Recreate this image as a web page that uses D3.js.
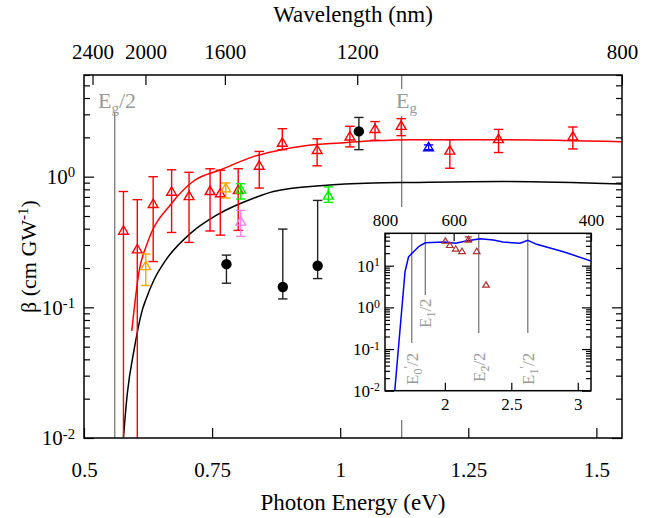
<!DOCTYPE html>
<html>
<head>
<meta charset="utf-8">
<script src="https://cdn.jsdelivr.net/npm/d3@7"></script>
<style>
  body { margin: 0; background: #fff; }
</style>
</head>
<body>
<div class="chart-container"></div>
<script>
const w = 666,
      h = 518;

// ---- data: photon energy (eV) and beta (cm/GW) ----
const redEnergy = [0.577, 0.604, 0.635, 0.671, 0.705, 0.746, 0.766, 0.801, 0.842, 0.887, 0.955, 1.019, 1.068, 1.119, 1.214, 1.309, 1.454];
const redBeta   = [0.388, 0.279, 0.621, 0.771, 0.714, 0.78, 0.75, 0.794, 1.22, 1.83, 1.61, 2.04, 2.33, 2.46, 1.59, 1.95, 2.04];
const redHigh   = [0.77, 0.667, 1.0, 1.13, 1.08, 1.15, 1.12, 1.15, 1.56, 2.33, 1.95, 2.43, 2.64, 2.78, 1.92, 2.30, 2.40];
const redLow    = [0.001, 0.001, 0.224, 0.374, 0.314, 0.384, 0.357, 0.388, 0.818, 1.61, 1.21, 1.69, 1.90, 2.06, 1.16, 1.53, 1.63];

const orangeEnergy = [0.6205, 0.7767];
const orangeBeta   = [0.208, 0.818];
const orangeHigh   = [0.256, 0.895];
const orangeLow    = [0.147, 0.687];

const greenEnergy = [0.806, 0.977];
const greenBeta   = [0.80, 0.72];
const greenHigh   = [0.883, 0.834];
const greenLow    = [0.674, 0.636];

const violetEnergy = [0.806];
const violetBeta   = [0.455];
const violetHigh   = [0.552];
const violetLow    = [0.349];

const blueEnergy = [1.1725];
const blueBeta   = [1.69];
const blueHigh   = [1.75];
const blueLow    = [1.61];

const blackEnergy = [0.778, 0.888, 0.956, 1.0365];
const blackBeta   = [0.214, 0.143, 0.208, 2.22];
const blackHigh   = [0.251, 0.397, 0.658, 2.84];
const blackLow    = [0.153, 0.116, 0.166, 1.61];

// fitted / theory curves
const redFitEnergy = [0.5932, 0.6074, 0.6236, 0.6705, 0.7148, 0.767, 0.832, 0.8697, 0.935, 1.0, 1.065, 1.137, 1.3125, 1.5527];
const redFitBeta   = [0.066, 0.188, 0.31, 0.621, 0.931, 1.13, 1.43, 1.56, 1.73, 1.81, 1.88, 1.92, 1.92, 1.85];
const blackFitEnergy = [0.576, 0.5846, 0.5977, 0.6139, 0.6205, 0.6367, 0.660, 0.7084, 0.7604, 0.832, 0.8697, 0.9674, 1.065, 1.137, 1.3125, 1.5527];
const blackFitBeta   = [0.009, 0.022, 0.0472, 0.0957, 0.114, 0.1625, 0.231, 0.370, 0.512, 0.687, 0.771, 0.857, 0.895, 0.904, 0.92, 0.879];

// inset
const insetCurveEnergy = [1.622, 1.7005, 1.7268, 1.8058, 1.8532, 1.994, 2.082, 2.150, 2.265, 2.364, 2.438, 2.566, 2.624, 2.691, 2.892, 3.1];
const insetCurveBeta   = [0.009, 7.18, 16.4, 29.2, 35.4, 37.0, 34.7, 38.5, 44.4, 41.4, 37.0, 34.5, 40.6, 32.6, 21.7, 13.0];
const insetPtEnergy = [2.004, 2.037, 2.082, 2.129, 2.177, 2.24, 2.31];
const insetPtBeta   = [39.8, 31.4, 25.6, 22.5, 43.0, 22.5, 3.5];
const insetPtHigh   = [null, null, null, null, 49.0, null, null];
const insetPtLow    = [null, null, null, null, 37.5, null, null];

// ticks and markers
const energyTicks = [0.5, 0.75, 1, 1.25, 1.5];
const wavelengthTicks = [2400, 2000, 1600, 1200, 800];
const betaTicks = [0.01, 0.1, 1];
const insetEnergyTicks = [2, 2.5, 3];
const insetWavelengthTicks = [800, 600, 400];
const insetBetaTicks = [0.01, 0.1, 1, 10];
const gapEnergies = [0.56, 1.12];
const insetGapEnergies = [1.751, 1.853, 2.255, 2.624];
const insetGapSub = ['0', '1', '2', '1'];
const insetGapPrime = [true, false, false, true];

const hc = 1239.84;

// ---- layout ----
const m = { left: 84, right: 622, top: 75, bottom: 438 };
const ins = { left: 385, right: 591, top: 233.3, bottom: 390.7 };
const font = 'Liberation Serif';

const svg = d3.select('.chart-container')
  .append('svg')
  .attr('width', w)
  .attr('height', h)
  .attr('font-family', font);

const x = d3.scaleLinear().domain([0.5, 1.55]).range([m.left, m.right]);
const y = d3.scaleLog().domain([0.01, 6]).range([m.bottom, m.top]);

svg.append('clipPath').attr('id', 'clip-main')
  .append('rect')
  .attr('x', m.left).attr('y', m.top)
  .attr('width', m.right - m.left).attr('height', m.bottom - m.top);

const styleAxis = (g, size) => {
  g.attr('font-family', font).attr('font-size', size);
  g.select('.domain').remove();
  g.selectAll('.tick line').attr('stroke', '#000').attr('stroke-width', 1.2);
  g.selectAll('.tick text').attr('fill', '#000');
};

const addPower = (sel) => {
  sel.selectAll('.tick text').each(function(d) {
    const t = d3.select(this);
    t.text('10');
    t.append('tspan')
      .attr('dy', '-0.45em')
      .attr('font-size', '0.7em')
      .text(Math.round(Math.log10(d)));
  });
};

// ---- gap lines ----
const gap = svg.append('g').attr('stroke', '#7a7a7a').attr('stroke-width', 1.3);
gap.append('line')
  .attr('x1', x(gapEnergies[0])).attr('x2', x(gapEnergies[0]))
  .attr('y1', 112).attr('y2', m.bottom);
gap.append('line')
  .attr('x1', x(gapEnergies[1])).attr('x2', x(gapEnergies[1]))
  .attr('y1', m.top).attr('y2', 89);
gap.append('line')
  .attr('x1', x(gapEnergies[1])).attr('x2', x(gapEnergies[1]))
  .attr('y1', 116).attr('y2', m.bottom);

const gapLabel = (xPos, half) => {
  const t = svg.append('text')
    .attr('x', xPos).attr('y', 108)
    .attr('fill', '#999')
    .attr('font-size', 22)
    .text('E');
  t.append('tspan').attr('dy', 5).attr('font-size', 15).text('g');
  if (half) t.append('tspan').attr('dy', -5).text('/2');
};
gapLabel(98, true);
gapLabel(396, false);

// ---- curves ----
const plot = svg.append('g').attr('clip-path', 'url(#clip-main)');

const line = d3.line()
  .x(d => x(d[0]))
  .y(d => y(d[1]))
  .curve(d3.curveMonotoneX);

plot.append('path')
  .datum(d3.zip(blackFitEnergy, blackFitBeta))
  .attr('d', line)
  .attr('fill', 'none')
  .attr('stroke', '#000')
  .attr('stroke-width', 1.5);

plot.append('path')
  .datum(d3.zip(redFitEnergy, redFitBeta))
  .attr('d', line)
  .attr('fill', 'none')
  .attr('stroke', '#ff0000')
  .attr('stroke-width', 1.5);

// ---- error bars and markers ----
const triangle = 'M0,-4.6L4.9,3.8L-4.9,3.8Z';

const drawSeries = (energy, beta, low, high, color, shape, barColor) => {
  const data = energy.map((e, i) => ({ e, b: beta[i], lo: low[i], hi: high[i] }));
  const g = plot.append('g');
  const bars = g.selectAll('.bar').data(data).enter().append('g')
    .attr('stroke', barColor || color)
    .attr('stroke-width', 1.4);
  bars.append('line')
    .attr('x1', d => x(d.e)).attr('x2', d => x(d.e))
    .attr('y1', d => y(d.hi)).attr('y2', d => y(d.lo));
  bars.append('line')
    .attr('x1', d => x(d.e) - 4.7).attr('x2', d => x(d.e) + 4.7)
    .attr('y1', d => y(d.hi)).attr('y2', d => y(d.hi));
  bars.append('line')
    .attr('x1', d => x(d.e) - 4.7).attr('x2', d => x(d.e) + 4.7)
    .attr('y1', d => y(d.lo)).attr('y2', d => y(d.lo));

  if (shape === 'circle') {
    g.selectAll('.dot').data(data).enter().append('circle')
      .attr('cx', d => x(d.e)).attr('cy', d => y(d.b))
      .attr('r', 5.2)
      .attr('fill', color);
  } else {
    g.selectAll('.tri').data(data).enter().append('path')
      .attr('d', triangle)
      .attr('transform', d => `translate(${x(d.e)},${y(d.b)})`)
      .attr('fill', 'none')
      .attr('stroke', color)
      .attr('stroke-width', 1.4);
  }
};

drawSeries(redEnergy, redBeta, redLow, redHigh, '#ff0000', 'tri');
drawSeries(orangeEnergy, orangeBeta, orangeLow, orangeHigh, '#ffa500', 'tri');
drawSeries(greenEnergy, greenBeta, greenLow, greenHigh, '#00ee00', 'tri');
drawSeries(violetEnergy, violetBeta, violetLow, violetHigh, '#ee82ee', 'tri');
drawSeries(blueEnergy, blueBeta, blueLow, blueHigh, '#0000ff', 'tri');
drawSeries(blackEnergy, blackBeta, blackLow, blackHigh, '#000', 'circle', '#222');

// ---- main axes ----
const minorBeta = y.ticks().filter(v => !betaTicks.includes(v));

svg.append('g')
  .attr('transform', `translate(0,${m.bottom})`)
  .call(d3.axisBottom(x).tickValues(energyTicks).tickFormat(d => String(d))
    .tickSizeInner(-10).tickSizeOuter(0).tickPadding(24))
  .call(g => styleAxis(g, 21));

svg.append('g')
  .attr('transform', `translate(0,${m.top})`)
  .call(d3.axisTop(x).tickValues(wavelengthTicks.map(l => hc / l))
    .tickFormat((d, i) => wavelengthTicks[i])
    .tickSizeInner(-10).tickSizeOuter(0).tickPadding(16))
  .call(g => styleAxis(g, 21));

svg.append('g')
  .attr('transform', `translate(${m.left},0)`)
  .call(d3.axisLeft(y).tickValues(betaTicks).tickSizeInner(-10).tickSizeOuter(0).tickPadding(9))
  .call(g => styleAxis(g, 21))
  .call(addPower);

svg.append('g')
  .attr('transform', `translate(${m.left},0)`)
  .call(d3.axisLeft(y).tickValues(minorBeta).tickFormat('').tickSizeInner(-6).tickSizeOuter(0))
  .call(g => styleAxis(g, 21));

svg.append('g')
  .attr('transform', `translate(${m.right},0)`)
  .call(d3.axisRight(y).tickValues(betaTicks).tickFormat('').tickSizeInner(-10).tickSizeOuter(0))
  .call(g => styleAxis(g, 21));

svg.append('g')
  .attr('transform', `translate(${m.right},0)`)
  .call(d3.axisRight(y).tickValues(minorBeta).tickFormat('').tickSizeInner(-6).tickSizeOuter(0))
  .call(g => styleAxis(g, 21));

svg.append('rect')
  .attr('x', m.left).attr('y', m.top)
  .attr('width', m.right - m.left).attr('height', m.bottom - m.top)
  .attr('fill', 'none')
  .attr('stroke', '#000')
  .attr('stroke-width', 1.5);

svg.append('text')
  .attr('x', (m.left + m.right) / 2).attr('y', 510)
  .attr('text-anchor', 'middle')
  .attr('font-size', 23)
  .text('Photon Energy (eV)');

svg.append('text')
  .attr('x', (m.left + m.right) / 2).attr('y', 22)
  .attr('text-anchor', 'middle')
  .attr('font-size', 23)
  .text('Wavelength (nm)');

const yLabel = svg.append('text')
  .attr('transform', `translate(36,${(m.top + m.bottom) / 2}) rotate(-90)`)
  .attr('text-anchor', 'middle')
  .attr('font-size', 22)
  .text('β (cm GW');
yLabel.append('tspan').attr('dy', -8).attr('font-size', 15).text('-1');
yLabel.append('tspan').attr('dy', 8).text(')');

// ---- inset ----
const xi = d3.scaleLinear().domain([hc / 800, hc / 400]).range([ins.left, ins.right]);
const yi = d3.scaleLog().domain([0.01, 60]).range([ins.bottom, ins.top]);

svg.append('rect')
  .attr('x', 340).attr('y', 207)
  .attr('width', 272).attr('height', 213)
  .attr('fill', '#fff');

svg.append('clipPath').attr('id', 'clip-inset')
  .append('rect')
  .attr('x', ins.left).attr('y', ins.top)
  .attr('width', ins.right - ins.left).attr('height', ins.bottom - ins.top);

const inset = svg.append('g');

// gap lines with rotated labels
const insetLineEnd = [343, 295, 333, 333];
const insetLabelBottom = [385, 328, 382, 385];
insetGapEnergies.forEach((e, i) => {
  inset.append('line')
    .attr('x1', xi(e)).attr('x2', xi(e))
    .attr('y1', ins.top).attr('y2', insetLineEnd[i])
    .attr('stroke', '#7a7a7a')
    .attr('stroke-width', 1.3);
  const t = inset.append('text')
    .attr('transform', `translate(${xi(e) + 6},${insetLabelBottom[i]}) rotate(-90)`)
    .attr('fill', '#999')
    .attr('font-size', 17)
    .text('E');
  t.append('tspan').attr('dy', 4).attr('font-size', 12).text(insetGapSub[i]);
  if (insetGapPrime[i]) {
    t.append('tspan').attr('dy', -10).attr('font-size', 12).text('′');
    t.append('tspan').attr('dy', 6).text('/2');
  } else {
    t.append('tspan').attr('dy', -4).text('/2');
  }
});

const insetPlot = inset.append('g').attr('clip-path', 'url(#clip-inset)');

insetPlot.append('path')
  .datum(d3.zip(insetCurveEnergy, insetCurveBeta))
  .attr('d', d3.line().x(d => xi(d[0])).y(d => yi(d[1])))
  .attr('fill', 'none')
  .attr('stroke', '#0000ff')
  .attr('stroke-width', 1.5);

const insetData = insetPtEnergy.map((e, i) => ({ e, b: insetPtBeta[i], lo: insetPtLow[i], hi: insetPtHigh[i] }));
const ebar = insetPlot.selectAll('.ebar').data(insetData.filter(d => d.hi !== null)).enter().append('g')
  .attr('stroke', '#b03030').attr('stroke-width', 1.2);
ebar.append('line')
  .attr('x1', d => xi(d.e)).attr('x2', d => xi(d.e))
  .attr('y1', d => yi(d.hi)).attr('y2', d => yi(d.lo));
ebar.append('line')
  .attr('x1', d => xi(d.e) - 3.5).attr('x2', d => xi(d.e) + 3.5)
  .attr('y1', d => yi(d.hi)).attr('y2', d => yi(d.hi));
ebar.append('line')
  .attr('x1', d => xi(d.e) - 3.5).attr('x2', d => xi(d.e) + 3.5)
  .attr('y1', d => yi(d.lo)).attr('y2', d => yi(d.lo));

insetPlot.selectAll('.itri').data(insetData).enter().append('path')
  .attr('d', 'M0,-2.9L3.3,2.5L-3.3,2.5Z')
  .attr('transform', d => `translate(${xi(d.e)},${yi(d.b)})`)
  .attr('fill', 'none')
  .attr('stroke', '#b03030')
  .attr('stroke-width', 1.2);

// inset axes
const insetMinor = yi.ticks().filter(v => !insetBetaTicks.includes(v));

inset.append('g')
  .attr('transform', `translate(0,${ins.bottom})`)
  .call(d3.axisBottom(xi).tickValues(insetEnergyTicks).tickFormat(d => String(d))
    .tickSizeInner(-8).tickSizeOuter(0).tickPadding(7))
  .call(g => styleAxis(g, 17));

inset.append('g')
  .attr('transform', `translate(0,${ins.top})`)
  .call(d3.axisTop(xi).tickValues(insetWavelengthTicks.map(l => hc / l))
    .tickFormat((d, i) => insetWavelengthTicks[i])
    .tickSizeInner(-8).tickSizeOuter(0).tickPadding(7))
  .call(g => styleAxis(g, 17));

inset.append('g')
  .attr('transform', `translate(${ins.left},0)`)
  .call(d3.axisLeft(yi).tickValues(insetBetaTicks).tickSizeInner(-9).tickSizeOuter(0).tickPadding(5))
  .call(g => styleAxis(g, 17))
  .call(addPower);

inset.append('g')
  .attr('transform', `translate(${ins.left},0)`)
  .call(d3.axisLeft(yi).tickValues(insetMinor).tickFormat('').tickSizeInner(-5).tickSizeOuter(0))
  .call(g => styleAxis(g, 17));

inset.append('g')
  .attr('transform', `translate(${ins.right},0)`)
  .call(d3.axisRight(yi).tickValues(insetBetaTicks).tickFormat('').tickSizeInner(-9).tickSizeOuter(0))
  .call(g => styleAxis(g, 17));

inset.append('g')
  .attr('transform', `translate(${ins.right},0)`)
  .call(d3.axisRight(yi).tickValues(insetMinor).tickFormat('').tickSizeInner(-5).tickSizeOuter(0))
  .call(g => styleAxis(g, 17));

inset.append('rect')
  .attr('x', ins.left).attr('y', ins.top)
  .attr('width', ins.right - ins.left).attr('height', ins.bottom - ins.top)
  .attr('fill', 'none')
  .attr('stroke', '#000')
  .attr('stroke-width', 1.5);
</script>
</body>
</html>
